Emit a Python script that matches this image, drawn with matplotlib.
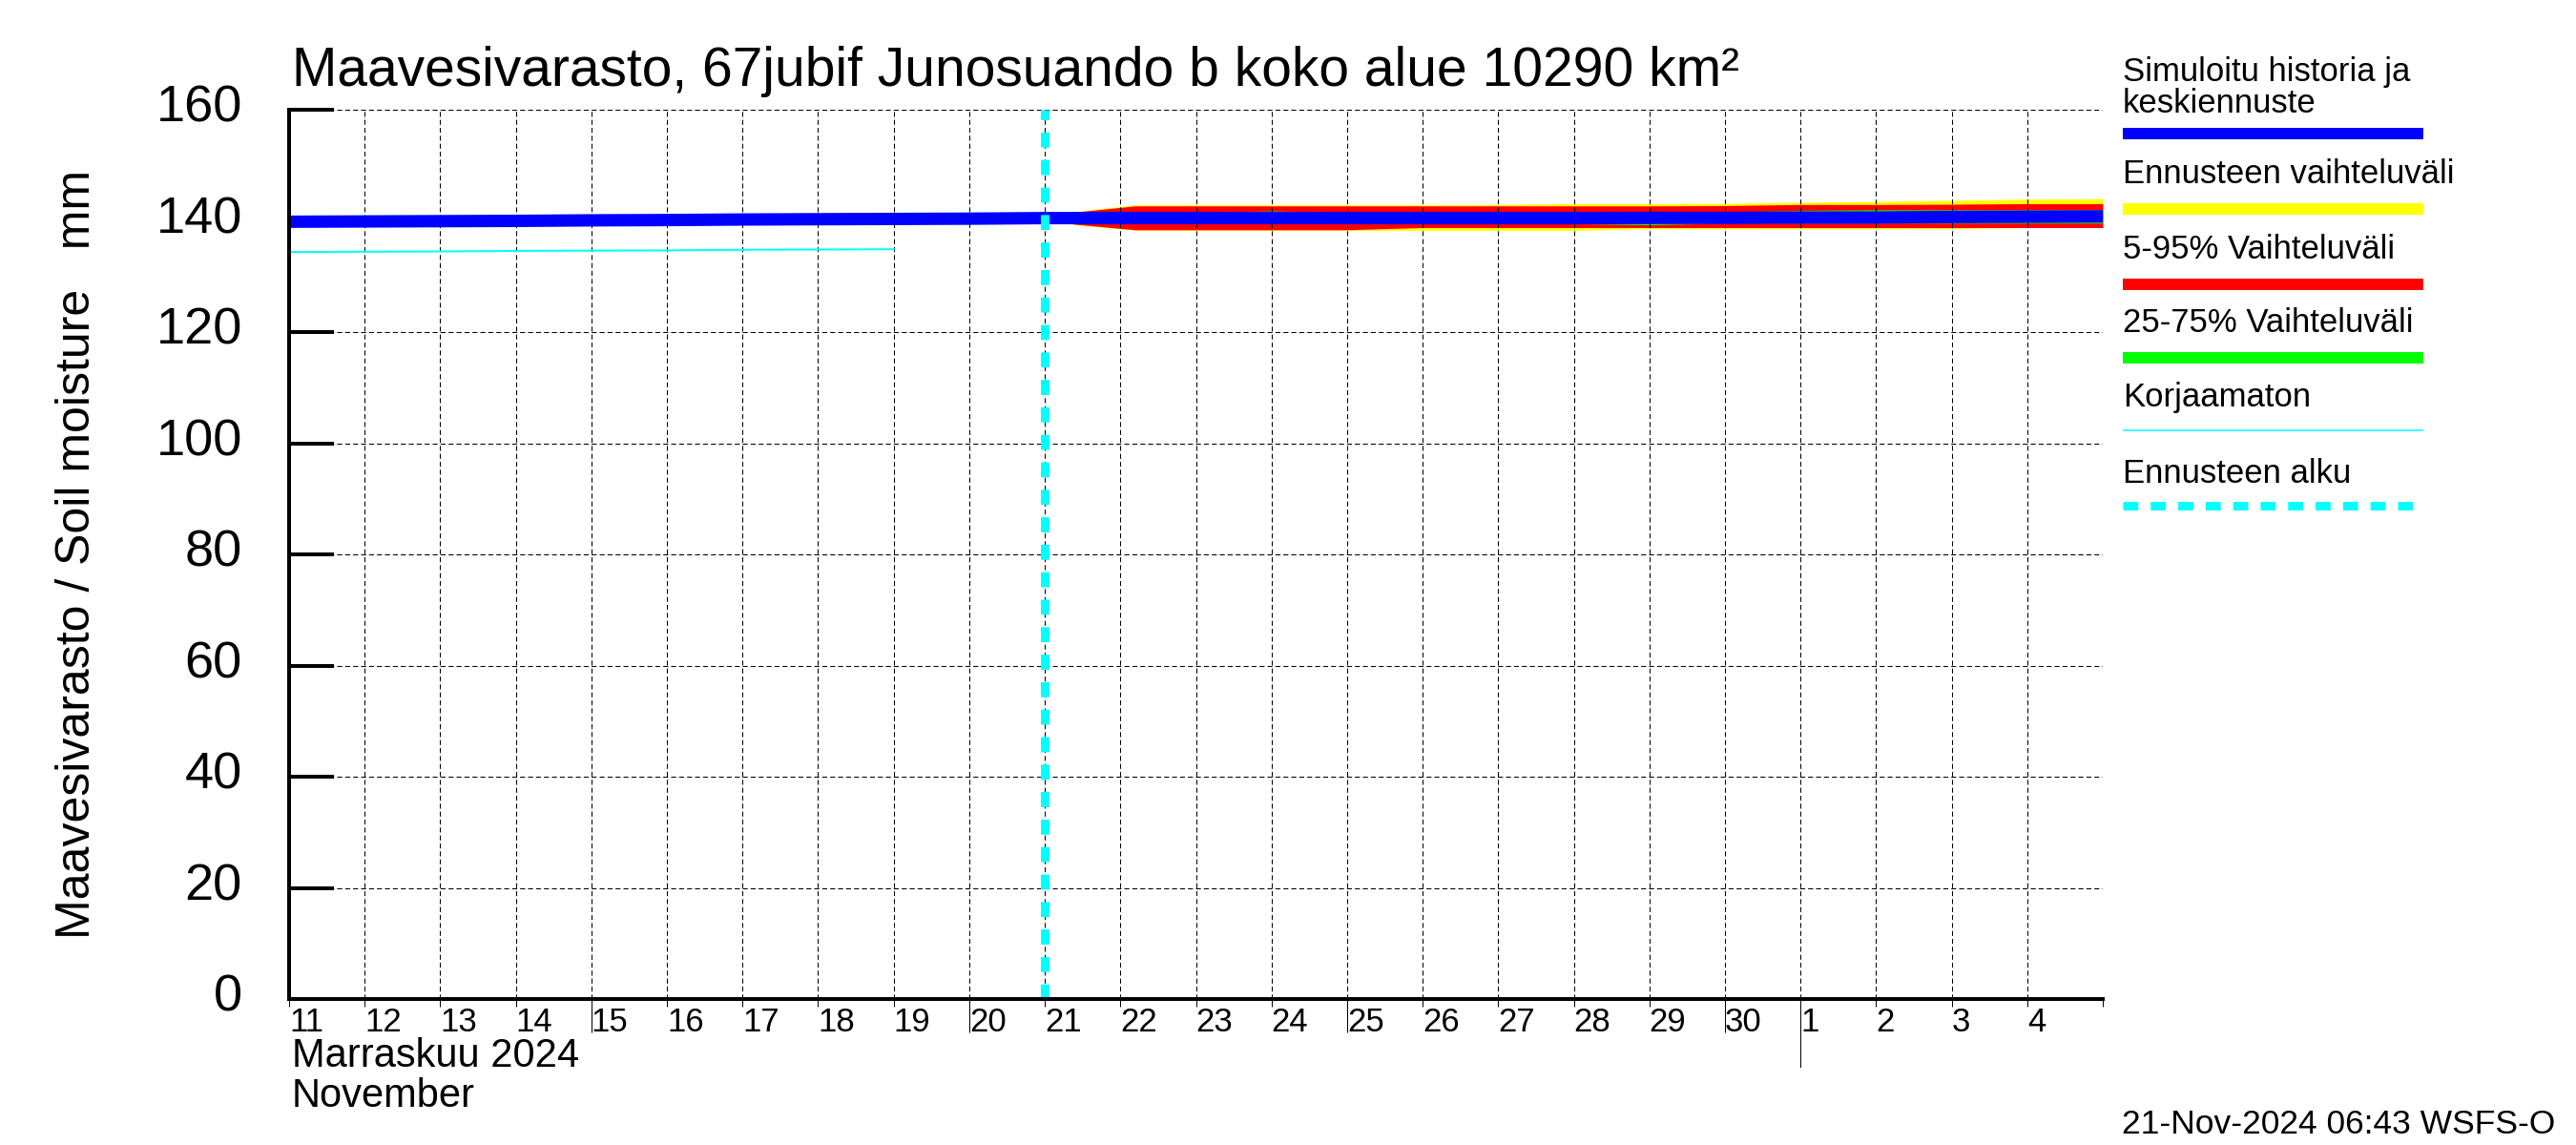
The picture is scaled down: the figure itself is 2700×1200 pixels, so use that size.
import matplotlib
matplotlib.use('Agg')
import matplotlib.pyplot as plt
from matplotlib.lines import Line2D
from matplotlib.transforms import ScaledTranslation

plt.rcParams['font.family'] = ['Liberation Sans', 'DejaVu Sans']

PX = 72 / 100  # points per pixel at dpi 100

# x = days since 11 Nov 2024 00:00
day_labels = ['11', '12', '13', '14', '15', '16', '17', '18', '19', '20', '21', '22',
              '23', '24', '25', '26', '27', '28', '29', '30', '1', '2', '3', '4']
five_day_ticks = [4, 9, 14, 19]   # 15, 20, 25, 30 Nov
month_start = 20                  # 1 Dec
fc_start = 10                     # 21 Nov

hist_day = [0, 1, 2, 3, 4, 5, 6, 7, 8, 9, 10]
hist_val = [139.85, 139.9, 139.95, 140.0, 140.1, 140.15, 140.25, 140.3, 140.35, 140.4, 140.5]

raw_day = [0, 1, 2, 3, 4, 5, 6, 7, 8]
raw_val = [134.4, 134.45, 134.5, 134.6, 134.65, 134.7, 134.8, 134.85, 134.9]

fc_day = [10, 10.4, 11.2, 12, 13, 14, 15, 16, 17, 18, 19, 20, 21, 22, 23, 24]
fc_mid = [140.5, 140.5, 140.5, 140.5, 140.5, 140.5, 140.5, 140.5, 140.5, 140.55, 140.55,
          140.6, 140.6, 140.7, 140.75, 140.8]
yel_hi = [140.5, 141.7, 142.9, 142.9, 142.9, 142.9, 142.9, 142.95, 143.1, 143.1, 143.15,
          143.35, 143.5, 143.7, 143.9, 144.0]
yel_lo = [140.5, 139.3, 138.3, 138.3, 138.3, 138.3, 138.3, 138.3, 138.3, 138.6, 138.6,
          138.6, 138.6, 138.6, 138.8, 138.8]
red_hi = [140.5, 141.6, 142.7, 142.7, 142.7, 142.7, 142.7, 142.7, 142.7, 142.7, 142.75,
          142.95, 142.95, 143.0, 143.1, 143.1]
red_lo = [140.5, 139.4, 138.4, 138.4, 138.4, 138.4, 138.8, 138.8, 138.8, 138.8, 138.8,
          138.8, 138.8, 138.8, 138.8, 138.8]
grn_hi = [140.5, 141.0, 141.5, 141.5, 141.8, 141.5, 141.5, 141.5, 141.5, 141.5, 141.6,
          141.9, 142.0, 142.0, 142.0, 142.0]
grn_lo = [140.5, 140.0, 139.6, 139.6, 139.6, 139.6, 139.6, 139.6, 139.5, 139.3, 139.6,
          139.6, 139.6, 139.6, 139.6, 139.6]

BLUE = '#0000ff'
YEL = '#ffff00'
RED = '#ff0000'
GRN = '#00ff00'
CYAN = '#00ffff'

fig = plt.figure(figsize=(27, 12), dpi=100)
ax = fig.add_axes([303 / 2700, 1 - 1047 / 1200, (2204 - 303) / 2700, (1047 - 115) / 1200])

ax.fill_between(fc_day, yel_lo, yel_hi, color=YEL, lw=0)
ax.fill_between(fc_day, red_lo, red_hi, color=RED, lw=0)
ax.fill_between(fc_day, grn_lo, grn_hi, color=GRN, lw=0)
ax.plot(raw_day, raw_val, color=CYAN, lw=2 * PX)
ax.plot(hist_day, hist_val, color=BLUE, lw=13 * PX, solid_capstyle='butt')
ax.plot(fc_day, fc_mid, color=BLUE, lw=13 * PX, solid_capstyle='butt')
ax.axvline(fc_start, color=CYAN, lw=9 * PX, linestyle=(0, (1.75, 1.45)))

ax.set_xlim(0, 24)
ax.set_ylim(0, 160)
ax.set_xticks(range(0, 25))
ax.set_xticklabels(day_labels + [''])
ax.set_yticks(range(0, 161, 20))
ax.set_xticks(five_day_ticks, minor=True)
ax.xaxis.remove_overlapping_locs = False
ax.grid(True, which='major', color='black', linestyle=(0, (5, 3)), lw=0.75)

for s in ['top', 'right']:
    ax.spines[s].set_visible(False)
for s in ['left', 'bottom']:
    ax.spines[s].set_linewidth(4 * PX)

ax.tick_params(axis='y', direction='in', length=47 * PX, width=4 * PX, pad=49 * PX, labelsize=39)
ax.tick_params(axis='x', which='major', direction='out', length=8 * PX, width=1 * PX,
               pad=0, labelsize=25)
ax.tick_params(axis='x', which='minor', direction='out', length=35 * PX, width=1 * PX)
for lab in ax.get_xticklabels():
    lab.set_ha('left')
for lab in ax.get_yticklabels():
    lab.set_transform(lab.get_transform() + ScaledTranslation(0, 7 / 100, fig.dpi_scale_trans))

ax.axvline(month_start, ymin=-71 / 932, ymax=0, color='black', lw=1 * PX, clip_on=False)

fig.text(306 / 2700, 1 - 90 / 1200,
         'Maavesivarasto, 67jubif Junosuando b koko alue 10290 km²',
         fontsize=41, va='baseline')
fig.text(81 / 2700, 1 - 581 / 1200, 'Maavesivarasto / Soil moisture   mm',
         rotation=90, ha='center', va='center', fontsize=36)
fig.text(306 / 2700, 1 - 1087 / 1200, 'Marraskuu 2024\nNovember', fontsize=30,
         va='top', linespacing=1.08)
fig.text(0.992, 1 - 1178 / 1200, '21-Nov-2024 06:43 WSFS-O', fontsize=25.5,
         ha='right', va='center')

# legend at the right
leg_x0, leg_x1 = 2225 / 2700, 2540 / 2700
legend_items = [
    ('Simuloitu historia ja\nkeskiennuste', 91.5, 139.5, BLUE, 12, '-'),
    ('Ennusteen vaihteluväli', 182.5, 218.7, YEL, 12, '-'),
    ('5-95% Vaihteluväli', 262, 298, RED, 12, '-'),
    ('25-75% Vaihteluväli', 339, 375, GRN, 12, '-'),
    ('Korjaamaton', 417, 451, CYAN, 1.5, '-'),
    ('Ennusteen alku', 496, 530, CYAN, 9, (0, (1.75, 1.45))),
]
for text, ty, ly, col, w, ls in legend_items:
    fig.text(leg_x0, 1 - ty / 1200, text, fontsize=25, va='center', linespacing=1.0)
    fig.add_artist(Line2D([leg_x0, leg_x1], [1 - ly / 1200, 1 - ly / 1200],
                          transform=fig.transFigure, color=col, lw=w * PX,
                          linestyle=ls, solid_capstyle='butt'))

fig.savefig('out.png', dpi=100)
